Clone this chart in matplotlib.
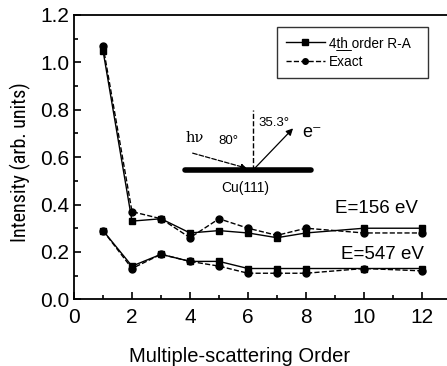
import numpy as np
import matplotlib
matplotlib.use('Agg')
import matplotlib.pyplot as plt
from matplotlib import font_manager

plt.rcParams['font.family'] = ['Liberation Sans', 'DejaVu Sans']

# data
order = [1, 2, 3, 4, 5, 6, 7, 8, 10, 12]
ra_156 = [1.05, 0.33, 0.34, 0.28, 0.29, 0.28, 0.26, 0.28, 0.30, 0.30]
exact_156 = [1.07, 0.37, 0.34, 0.26, 0.34, 0.30, 0.27, 0.30, 0.28, 0.28]
ra_547 = [0.29, 0.14, 0.19, 0.16, 0.16, 0.13, 0.13, 0.13, 0.13, 0.13]
exact_547 = [0.29, 0.13, 0.19, 0.16, 0.14, 0.11, 0.11, 0.11, 0.13, 0.12]

fig = plt.figure(figsize=(4.47, 3.66), dpi=100)
ax = fig.add_axes([74/447, 1-299.3/366, 377/447, 284.3/366])

l1, = ax.plot(order, ra_156, 'k-s', lw=1, ms=5)
l2, = ax.plot(order, exact_156, 'k--o', lw=1, ms=5)
ax.plot(order, ra_547, 'k-s', lw=1, ms=5)
ax.plot(order, exact_547, 'k--o', lw=1, ms=5)

ax.set_xlim(0, 13)
ax.set_ylim(0, 1.2)
ax.set_xticks([0, 2, 4, 6, 8, 10, 12])
ax.set_xticks(np.arange(1, 13, 2), minor=True)
ax.set_yticks(np.arange(0, 1.21, 0.2))
ax.set_yticks(np.arange(0.1, 1.2, 0.2), minor=True)
ax.yaxis.set_major_formatter(matplotlib.ticker.FormatStrFormatter('%.1f'))
ax.tick_params(which='both', direction='in', labelsize=15, width=1.2)
ax.tick_params(which='major', length=5)
ax.tick_params(which='minor', length=3)
ax.tick_params(axis='x', pad=6)
for s in ax.spines.values():
    s.set_linewidth(1.3)
ax.spines['right'].set_visible(False)

ax.set_xlabel('Multiple-scattering Order', fontsize=14.5)
ax.xaxis.set_label_coords(0.44, -0.168)

# the y label in the original is set in a narrow face
names = {f.name for f in font_manager.fontManager.ttflist}
narrow = [n for n in ['Liberation Sans Narrow', 'Arial Narrow', 'Roboto Condensed'] if n in names]
if narrow:
    ax.set_ylabel('Intensity (arb. units)', fontsize=14.5, family=narrow[0])
else:
    ax.set_ylabel('Intensity (arb. units)', fontsize=11.5)
ax.yaxis.set_label_coords(-0.115, 0.483)

leg = ax.legend([l1, l2], ['4t\u0332h\u0332 order R-A', 'Exact'],
                loc='upper left', bbox_to_anchor=(0.538, 0.80, 0.40, 0.158),
                mode='expand', borderaxespad=0,
                fontsize=9.8, frameon=True, fancybox=False, edgecolor='black',
                handlelength=2.9, handletextpad=0.3, borderpad=0.65,
                labelspacing=0.4, markerscale=0.8)
leg.get_frame().set_linewidth(1)

ax.text(9.0, 0.385, 'E=156 eV', fontsize=13.5, va='center')
ax.text(9.2, 0.19, 'E=547 eV', fontsize=13.5, va='center')

# inset geometry sketch
ax.plot([3.83, 8.17], [0.545, 0.545], 'k-', lw=4, solid_capstyle='round')
ax.plot([6.17, 6.17], [0.545, 0.80], 'k--', lw=1)
ax.annotate('', xy=(6.05, 0.55), xytext=(4.0, 0.62),
            arrowprops=dict(arrowstyle='-|>', ls='--', lw=0.9, color='k', mutation_scale=8))
ax.annotate('', xy=(7.62, 0.73), xytext=(6.17, 0.545),
            arrowprops=dict(arrowstyle='-|>', lw=0.9, color='k', mutation_scale=10))
ax.text(3.83, 0.68, 'h\u03bd', fontsize=10.5, family='DejaVu Serif', va='center')
ax.text(4.97, 0.67, '80°', fontsize=9.5, va='center')
ax.text(6.35, 0.745, '35.3°', fontsize=9.5, va='center')
ax.text(7.86, 0.706, 'e\u207b', fontsize=13, va='center')
ax.text(5.9, 0.47, 'Cu(111)', fontsize=10, ha='center', va='center')

fig.savefig('out.png', dpi=100)
